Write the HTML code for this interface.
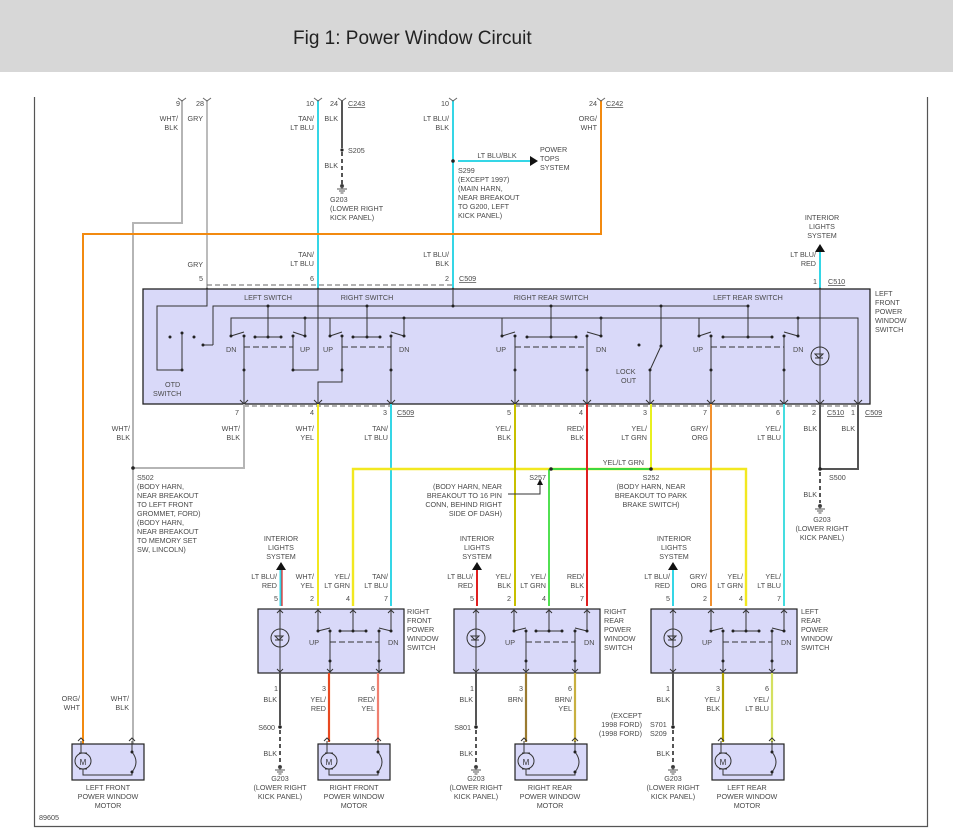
<!DOCTYPE html>
<html><head><meta charset="utf-8"><style>
html,body{margin:0;padding:0;background:#fff;}
svg{display:block}
.t{font-family:"Liberation Sans",sans-serif;font-size:7.2px;fill:#4a4a4a}
.r{text-anchor:end}.c{text-anchor:middle}
.u{text-decoration:underline}
</style></head><body>
<svg width="953" height="838" viewBox="0 0 953 838" xmlns="http://www.w3.org/2000/svg">
<rect x="0" y="0" width="953" height="72" fill="#d7d7d7"/>
<text x="293" y="44" style="font-family:'Liberation Sans',sans-serif;font-size:19px;fill:#222">Fig 1: Power Window Circuit</text>
<path d="M34.5 97 V826.5 H927.5 V97" fill="none" stroke="#555" stroke-width="1.2"/>
<defs>
<g id="gnd" fill="none" stroke="#555" stroke-width="1"><circle cx="0" cy="0" r="1.6" fill="#333"/><path d="M0 0 V3 M-5 3 H5 M-3 5 H3 M-1.5 7 H1.5"/></g>
<g id="lsw">
<rect x="0" y="0" width="146" height="64" fill="#d9d9f9" stroke="#222" stroke-width="1.2"/>
<g fill="none" stroke="#333" stroke-width="1">
<path d="M22 0 V64"/><circle cx="22" cy="29" r="9"/><path d="M17 27 H25 L21 31 Z M17 31 H25"/>
<path d="M60 2 V22 L72 19 M72 22 V64 M82 22 H108 M95 2 V22 M121 19 L133 22 V2 M121 22 V64"/>
<path d="M72 33 H121" stroke-dasharray="6,3"/>
<path d="M19 4 L22 1 L25 4 M57 4 L60 1 L63 4 M92 4 L95 1 L98 4 M130 4 L133 1 L136 4 M19 60 L22 63 L25 60 M69 60 L72 63 L75 60 M118 60 L121 63 L124 60"/>
</g>
<g fill="#222"><circle cx="60" cy="22" r="1.5"/><circle cx="72" cy="22" r="1.5"/><circle cx="82" cy="22" r="1.5"/><circle cx="95" cy="22" r="1.5"/><circle cx="108" cy="22" r="1.5"/><circle cx="121" cy="22" r="1.5"/><circle cx="133" cy="22" r="1.5"/><circle cx="72" cy="52" r="1.5"/><circle cx="121" cy="52" r="1.5"/></g>
</g>
<g id="mot">
<rect x="0" y="0" width="72" height="36" fill="#d9d9f9" stroke="#222" stroke-width="1.2"/>
<g fill="none" stroke="#333" stroke-width="1">
<circle cx="11" cy="17" r="8"/><path d="M9 -3 V9 M11 25 V31 H60 V28 M60 -3 V8 Q68 18 60 28 M6 -3 L9 -6 L12 -3 M57 -3 L60 -6 L63 -3"/>
<path d="M7 9 H15 M7 25 H15"/>
</g>
<circle cx="60" cy="8" r="1.5" fill="#222"/><circle cx="60" cy="28" r="1.5" fill="#222"/>
</g>
</defs>

<!-- top wires -->
<g fill="none" stroke-width="2">
<path d="M182 100 V223 H133 V745" stroke="#b5b5b5"/>
<path d="M207 100 V289" stroke="#bcbcbc"/>
<path d="M318 100 V289" stroke="#35d6e6"/>
<path d="M342 100 V148" stroke="#555"/>
<path d="M342 152 V184" stroke="#555" stroke-dasharray="4,3"/>
<path d="M453 100 V289" stroke="#35d6e6"/>
<path d="M458 161 H530" stroke="#35d6e6"/>
<path d="M601 100 V234 H83 V745" stroke="#f28a10"/>
<path d="M820 250 V289" stroke="#35d6e6"/>
</g>
<g fill="none" stroke="#666" stroke-width="1"><path d="M178 98 L182 101 L186 98 M203 98 L207 101 L211 98 M314 98 L318 101 L322 98 M338 98 L342 101 L346 98 M449 98 L453 101 L457 98 M597 98 L601 101 L605 98"/>
<path d="M203 292 L207 288 L211 292 M314 292 L318 288 L322 292 M449 292 L453 288 L457 292 M816 292 L820 288 L824 292"/>
<path d="M207 285 H453" stroke-dasharray="5,3"/></g>
<circle cx="342" cy="150" r="1.6" fill="#222"/><use href="#gnd" x="342" y="186"/>
<circle cx="453" cy="161" r="1.8" fill="#222"/>
<path d="M530 156 L538 161 L530 166 Z" fill="#111"/>
<path d="M815 252 L820 244 L825 252 Z" fill="#111"/>

<text class="t r" x="180" y="106">9</text><text class="t r" x="204" y="106">28</text>
<text class="t r" x="178" y="121">WHT/</text><text class="t r" x="178" y="130">BLK</text><text class="t r" x="203" y="121">GRY</text>
<text class="t r" x="314" y="106">10</text><text class="t r" x="338" y="106">24</text><text class="t u" x="348" y="106">C243</text>
<text class="t r" x="314" y="121">TAN/</text><text class="t r" x="314" y="130">LT BLU</text><text class="t r" x="338" y="121">BLK</text>
<text class="t" x="348" y="153">S205</text><text class="t r" x="338" y="168">BLK</text>
<text class="t" x="330" y="202">G203</text><text class="t" x="330" y="211">(LOWER RIGHT</text><text class="t" x="330" y="220">KICK PANEL)</text>
<text class="t r" x="449" y="106">10</text><text class="t r" x="449" y="121">LT BLU/</text><text class="t r" x="449" y="130">BLK</text>
<text class="t c" x="497" y="158">LT BLU/BLK</text>
<text class="t" x="540" y="152">POWER</text><text class="t" x="540" y="161">TOPS</text><text class="t" x="540" y="170">SYSTEM</text>
<text class="t" x="458" y="173">S299</text><text class="t" x="458" y="182">(EXCEPT 1997)</text><text class="t" x="458" y="191">(MAIN HARN,</text><text class="t" x="458" y="200">NEAR BREAKOUT</text><text class="t" x="458" y="209">TO G200, LEFT</text><text class="t" x="458" y="218">KICK PANEL)</text>
<text class="t r" x="597" y="106">24</text><text class="t u" x="606" y="106">C242</text>
<text class="t r" x="597" y="121">ORG/</text><text class="t r" x="597" y="130">WHT</text>
<text class="t r" x="203" y="267">GRY</text><text class="t r" x="203" y="281">5</text>
<text class="t r" x="314" y="257">TAN/</text><text class="t r" x="314" y="266">LT BLU</text><text class="t r" x="314" y="281">6</text>
<text class="t r" x="449" y="257">LT BLU/</text><text class="t r" x="449" y="266">BLK</text><text class="t r" x="449" y="281">2</text><text class="t u" x="459" y="281">C509</text>
<text class="t c" x="822" y="220">INTERIOR</text><text class="t c" x="822" y="229">LIGHTS</text><text class="t c" x="822" y="238">SYSTEM</text>
<text class="t r" x="816" y="257">LT BLU/</text><text class="t r" x="816" y="266">RED</text><text class="t r" x="817" y="284">1</text><text class="t u" x="828" y="284">C510</text>
<text class="t" x="875" y="296">LEFT</text><text class="t" x="875" y="305">FRONT</text><text class="t" x="875" y="314">POWER</text><text class="t" x="875" y="323">WINDOW</text><text class="t" x="875" y="332">SWITCH</text>

<!-- main box -->
<rect x="143" y="289" width="727" height="115" fill="#d9d9f9" stroke="#222" stroke-width="1.3"/>
<g fill="none" stroke="#333" stroke-width="1">
<path d="M207 289 V306 H157 V370 H182 V334"/>
<path d="M213 345 H203 M213 345 V306 H748"/>
<path d="M231 336 V318 H858 V404"/>
<path d="M305 336 V318 M330 336 V318 M404 336 V318 M502 336 V318 M601 336 V318 M699 336 V318 M798 336 V318"/>
<path d="M268 306 V337 M367 306 V337 M453 289 V306 M551 306 V337 M661 306 V346 L650 370 V404 M748 306 V337"/>
<path d="M231 336 L244 332 M244 336 V404 M255 337 H281 M293 332 L305 336 M293 336 V370 H318 V289"/>
<path d="M330 336 L342 332 M342 336 V382 H318 V404 M353 337 H380 M391 332 L404 336 M391 336 V404"/>
<path d="M502 336 L515 332 M515 336 V404 M527 337 H576 M587 332 L601 336 M587 336 V404"/>
<path d="M699 336 L711 332 M711 336 V404 M723 337 H772 M784 332 L798 336 M784 336 V404"/>
<path d="M244 347 H293 M342 347 H391 M515 347 H587 M711 347 H784" stroke-dasharray="6,3"/>
<path d="M820 289 V404"/><circle cx="820" cy="356" r="9"/><path d="M815 354 H823 L819 358 Z M815 358 H823"/>
<path d="M240 400 L244 404 L248 400 M314 400 L318 404 L322 400 M387 400 L391 404 L395 400 M511 400 L515 404 L519 400 M583 400 L587 404 L591 400 M646 400 L650 404 L654 400 M707 400 L711 404 L715 400 M780 400 L784 404 L788 400 M816 400 L820 404 L824 400 M854 400 L858 404 L862 400"/>
</g>
<g fill="#222">
<circle cx="170" cy="337" r="1.5"/><circle cx="182" cy="333" r="1.5"/><circle cx="194" cy="337" r="1.5"/><circle cx="203" cy="345" r="1.5"/><circle cx="182" cy="370" r="1.5"/>
<circle cx="268" cy="306" r="1.5"/><circle cx="367" cy="306" r="1.5"/><circle cx="453" cy="306" r="1.5"/><circle cx="551" cy="306" r="1.5"/><circle cx="661" cy="306" r="1.5"/><circle cx="748" cy="306" r="1.5"/>
<circle cx="305" cy="318" r="1.5"/><circle cx="404" cy="318" r="1.5"/><circle cx="601" cy="318" r="1.5"/><circle cx="798" cy="318" r="1.5"/>
<circle cx="231" cy="336" r="1.5"/><circle cx="244" cy="336" r="1.5"/><circle cx="255" cy="337" r="1.5"/><circle cx="268" cy="337" r="1.5"/><circle cx="281" cy="337" r="1.5"/><circle cx="293" cy="336" r="1.5"/><circle cx="305" cy="336" r="1.5"/><circle cx="244" cy="370" r="1.5"/><circle cx="293" cy="370" r="1.5"/>
<circle cx="330" cy="336" r="1.5"/><circle cx="342" cy="336" r="1.5"/><circle cx="353" cy="337" r="1.5"/><circle cx="367" cy="337" r="1.5"/><circle cx="380" cy="337" r="1.5"/><circle cx="391" cy="336" r="1.5"/><circle cx="404" cy="336" r="1.5"/><circle cx="342" cy="370" r="1.5"/><circle cx="391" cy="370" r="1.5"/>
<circle cx="502" cy="336" r="1.5"/><circle cx="515" cy="336" r="1.5"/><circle cx="527" cy="337" r="1.5"/><circle cx="551" cy="337" r="1.5"/><circle cx="576" cy="337" r="1.5"/><circle cx="587" cy="336" r="1.5"/><circle cx="601" cy="336" r="1.5"/><circle cx="515" cy="370" r="1.5"/><circle cx="587" cy="370" r="1.5"/>
<circle cx="639" cy="345" r="1.5"/><circle cx="661" cy="346" r="1.5"/><circle cx="650" cy="370" r="1.5"/>
<circle cx="699" cy="336" r="1.5"/><circle cx="711" cy="336" r="1.5"/><circle cx="723" cy="337" r="1.5"/><circle cx="748" cy="337" r="1.5"/><circle cx="772" cy="337" r="1.5"/><circle cx="784" cy="336" r="1.5"/><circle cx="798" cy="336" r="1.5"/><circle cx="711" cy="370" r="1.5"/><circle cx="784" cy="370" r="1.5"/>
</g>
<text class="t c" x="268" y="300">LEFT SWITCH</text><text class="t c" x="367" y="300">RIGHT SWITCH</text><text class="t c" x="551" y="300">RIGHT REAR SWITCH</text><text class="t c" x="748" y="300">LEFT REAR SWITCH</text>
<text class="t" x="226" y="352">DN</text><text class="t" x="300" y="352">UP</text><text class="t" x="323" y="352">UP</text><text class="t" x="399" y="352">DN</text>
<text class="t" x="496" y="352">UP</text><text class="t" x="596" y="352">DN</text><text class="t" x="693" y="352">UP</text><text class="t" x="793" y="352">DN</text>
<text class="t" x="616" y="374">LOCK</text><text class="t" x="621" y="383">OUT</text>
<text class="t" x="165" y="387">OTD</text><text class="t" x="153" y="396">SWITCH</text>

<!-- below main box wires -->
<g fill="none" stroke="#666" stroke-width="1"><path d="M244 406 H391 M515 406 H858" stroke-dasharray="5,3"/></g>
<g fill="none" stroke-width="2">
<path d="M244 404 V468 H133" stroke="#b5b5b5"/>
<path d="M318 404 V606" stroke="#f2e820"/>
<path d="M391 404 V606" stroke="#35d6e6"/>
<path d="M353 606 V469 H746 V606" stroke="#f2e820" stroke-width="2.4"/>
<path d="M551 469 H651" stroke="#3ed83e" stroke-width="2"/>
<path d="M651 404 V469" stroke="#e8f020"/>
<path d="M549 469 V606" stroke="#52e052"/>
<path d="M515 404 V606" stroke="#c8c000"/>
<path d="M587 404 V606" stroke="#e02020"/>
<path d="M711 404 V606" stroke="#f09030"/>
<path d="M784 404 V606" stroke="#45dde0"/>
<path d="M820 404 V469 M858 404 V469 H820" stroke="#555"/>
<path d="M820 472 V503" stroke="#555" stroke-dasharray="4,3"/>
</g>
<g fill="#222"><circle cx="133" cy="468" r="1.8"/><circle cx="551" cy="469" r="1.8"/><circle cx="651" cy="469" r="1.8"/><circle cx="820" cy="469" r="1.8"/></g>
<use href="#gnd" x="820" y="506"/>
<path d="M508 494 H540 V484" fill="none" stroke="#333"/><path d="M537 485 L540 479 L543 485 Z" fill="#111"/>
<text class="t r" x="239" y="415">7</text><text class="t r" x="314" y="415">4</text><text class="t r" x="387" y="415">3</text><text class="t u" x="397" y="415">C509</text>
<text class="t r" x="511" y="415">5</text><text class="t r" x="583" y="415">4</text><text class="t r" x="647" y="415">3</text><text class="t r" x="707" y="415">7</text><text class="t r" x="780" y="415">6</text><text class="t r" x="816" y="415">2</text><text class="t u" x="827" y="415">C510</text><text class="t r" x="855" y="415">1</text><text class="t u" x="865" y="415">C509</text>
<text class="t r" x="130" y="431">WHT/</text><text class="t r" x="130" y="440">BLK</text>
<text class="t r" x="240" y="431">WHT/</text><text class="t r" x="240" y="440">BLK</text>
<text class="t r" x="314" y="431">WHT/</text><text class="t r" x="314" y="440">YEL</text>
<text class="t r" x="388" y="431">TAN/</text><text class="t r" x="388" y="440">LT BLU</text>
<text class="t r" x="511" y="431">YEL/</text><text class="t r" x="511" y="440">BLK</text>
<text class="t r" x="584" y="431">RED/</text><text class="t r" x="584" y="440">BLK</text>
<text class="t r" x="647" y="431">YEL/</text><text class="t r" x="647" y="440">LT GRN</text>
<text class="t r" x="708" y="431">GRY/</text><text class="t r" x="708" y="440">ORG</text>
<text class="t r" x="781" y="431">YEL/</text><text class="t r" x="781" y="440">LT BLU</text>
<text class="t r" x="817" y="431">BLK</text><text class="t r" x="855" y="431">BLK</text>
<text class="t r" x="644" y="465">YEL/LT GRN</text>
<text class="t r" x="546" y="480">S257</text><text class="t c" x="651" y="480">S252</text><text class="t" x="829" y="480">S500</text>
<text class="t" x="137" y="480">S502</text><text class="t" x="137" y="489">(BODY HARN,</text><text class="t" x="137" y="498">NEAR BREAKOUT</text><text class="t" x="137" y="507">TO LEFT FRONT</text><text class="t" x="137" y="516">GROMMET, FORD)</text><text class="t" x="137" y="525">(BODY HARN,</text><text class="t" x="137" y="534">NEAR BREAKOUT</text><text class="t" x="137" y="543">TO MEMORY SET</text><text class="t" x="137" y="552">SW, LINCOLN)</text>
<text class="t r" x="502" y="489">(BODY HARN, NEAR</text><text class="t r" x="502" y="498">BREAKOUT TO 16 PIN</text><text class="t r" x="502" y="507">CONN, BEHIND RIGHT</text><text class="t r" x="502" y="516">SIDE OF DASH)</text>
<text class="t c" x="651" y="489">(BODY HARN, NEAR</text><text class="t c" x="651" y="498">BREAKOUT TO PARK</text><text class="t c" x="651" y="507">BRAKE SWITCH)</text>
<text class="t r" x="817" y="497">BLK</text>
<text class="t c" x="822" y="522">G203</text><text class="t c" x="822" y="531">(LOWER RIGHT</text><text class="t c" x="822" y="540">KICK PANEL)</text>

<!-- lower switches -->
<use href="#lsw" x="258" y="609"/><use href="#lsw" x="454" y="609"/><use href="#lsw" x="651" y="609"/>
<g fill="none" stroke-width="2">
<path d="M281 569 V606" stroke="#35d6e6" stroke-width="3"/><path d="M282 569 V606" stroke="#e02020" stroke-width="1.2"/>
<path d="M477 569 V606" stroke="#e02020"/>
<path d="M673 569 V606" stroke="#35d6e6"/>
<path d="M329 673 V742" stroke="#f07020" stroke-width="2.2"/><path d="M329 673 V742" stroke="#e02020" stroke-width="1"/>
<path d="M378 673 V742" stroke="#f08070" stroke-width="2.2"/>
<path d="M526 673 V742" stroke="#9a7a30" stroke-width="2.2"/>
<path d="M575 673 V742" stroke="#c8b040" stroke-width="2.2"/>
<path d="M723 673 V742" stroke="#b0a000" stroke-width="2.2"/>
<path d="M772 673 V742" stroke="#d4e060" stroke-width="2.2"/>
<path d="M280 673 V725 M476 673 V725 M673 673 V725" stroke="#555"/>
<path d="M280 730 V764 M476 730 V764 M673 730 V764" stroke="#555" stroke-dasharray="4,3"/>
</g>
<g fill="#222"><circle cx="280" cy="727" r="1.8"/><circle cx="476" cy="727" r="1.8"/><circle cx="673" cy="727" r="1.8"/></g>
<use href="#gnd" x="280" y="767"/><use href="#gnd" x="476" y="767"/><use href="#gnd" x="673" y="767"/>
<path d="M276 570 L281 562 L286 570 Z M472 570 L477 562 L482 570 Z M668 570 L673 562 L678 570 Z" fill="#111"/>
<use href="#mot" x="318" y="744"/><use href="#mot" x="515" y="744"/><use href="#mot" x="712" y="744"/><use href="#mot" x="72" y="744"/>
<text class="t c" x="329" y="765" style="font-size:8px;fill:#333">M</text><text class="t c" x="526" y="765" style="font-size:8px;fill:#333">M</text><text class="t c" x="723" y="765" style="font-size:8px;fill:#333">M</text><text class="t c" x="83" y="765" style="font-size:8px;fill:#333">M</text>

<!-- RF labels -->
<text class="t c" x="281" y="541">INTERIOR</text><text class="t c" x="281" y="550">LIGHTS</text><text class="t c" x="281" y="559">SYSTEM</text>
<text class="t r" x="277" y="579">LT BLU/</text><text class="t r" x="277" y="588">RED</text><text class="t r" x="314" y="579">WHT/</text><text class="t r" x="314" y="588">YEL</text><text class="t r" x="350" y="579">YEL/</text><text class="t r" x="350" y="588">LT GRN</text><text class="t r" x="388" y="579">TAN/</text><text class="t r" x="388" y="588">LT BLU</text>
<text class="t r" x="278" y="601">5</text><text class="t r" x="314" y="601">2</text><text class="t r" x="350" y="601">4</text><text class="t r" x="388" y="601">7</text>
<text class="t" x="407" y="614">RIGHT</text><text class="t" x="407" y="623">FRONT</text><text class="t" x="407" y="632">POWER</text><text class="t" x="407" y="641">WINDOW</text><text class="t" x="407" y="650">SWITCH</text>
<text class="t" x="309" y="645">UP</text><text class="t" x="388" y="645">DN</text>
<text class="t r" x="278" y="691">1</text><text class="t r" x="326" y="691">3</text><text class="t r" x="375" y="691">6</text>
<text class="t r" x="277" y="702">BLK</text><text class="t r" x="326" y="702">YEL/</text><text class="t r" x="326" y="711">RED</text><text class="t r" x="375" y="702">RED/</text><text class="t r" x="375" y="711">YEL</text>
<text class="t r" x="275" y="730">S600</text><text class="t r" x="277" y="756">BLK</text>
<text class="t c" x="280" y="781">G203</text><text class="t c" x="280" y="790">(LOWER RIGHT</text><text class="t c" x="280" y="799">KICK PANEL)</text>
<text class="t c" x="354" y="790">RIGHT FRONT</text><text class="t c" x="354" y="799">POWER WINDOW</text><text class="t c" x="354" y="808">MOTOR</text>
<!-- RR labels -->
<text class="t c" x="477" y="541">INTERIOR</text><text class="t c" x="477" y="550">LIGHTS</text><text class="t c" x="477" y="559">SYSTEM</text>
<text class="t r" x="473" y="579">LT BLU/</text><text class="t r" x="473" y="588">RED</text><text class="t r" x="511" y="579">YEL/</text><text class="t r" x="511" y="588">BLK</text><text class="t r" x="546" y="579">YEL/</text><text class="t r" x="546" y="588">LT GRN</text><text class="t r" x="584" y="579">RED/</text><text class="t r" x="584" y="588">BLK</text>
<text class="t r" x="474" y="601">5</text><text class="t r" x="511" y="601">2</text><text class="t r" x="546" y="601">4</text><text class="t r" x="584" y="601">7</text>
<text class="t" x="604" y="614">RIGHT</text><text class="t" x="604" y="623">REAR</text><text class="t" x="604" y="632">POWER</text><text class="t" x="604" y="641">WINDOW</text><text class="t" x="604" y="650">SWITCH</text>
<text class="t" x="505" y="645">UP</text><text class="t" x="584" y="645">DN</text>
<text class="t r" x="474" y="691">1</text><text class="t r" x="523" y="691">3</text><text class="t r" x="572" y="691">6</text>
<text class="t r" x="473" y="702">BLK</text><text class="t r" x="523" y="702">BRN</text><text class="t r" x="572" y="702">BRN/</text><text class="t r" x="572" y="711">YEL</text>
<text class="t r" x="471" y="730">S801</text><text class="t r" x="473" y="756">BLK</text>
<text class="t c" x="476" y="781">G203</text><text class="t c" x="476" y="790">(LOWER RIGHT</text><text class="t c" x="476" y="799">KICK PANEL)</text>
<text class="t c" x="550" y="790">RIGHT REAR</text><text class="t c" x="550" y="799">POWER WINDOW</text><text class="t c" x="550" y="808">MOTOR</text>
<!-- LR labels -->
<text class="t c" x="674" y="541">INTERIOR</text><text class="t c" x="674" y="550">LIGHTS</text><text class="t c" x="674" y="559">SYSTEM</text>
<text class="t r" x="670" y="579">LT BLU/</text><text class="t r" x="670" y="588">RED</text><text class="t r" x="707" y="579">GRY/</text><text class="t r" x="707" y="588">ORG</text><text class="t r" x="743" y="579">YEL/</text><text class="t r" x="743" y="588">LT GRN</text><text class="t r" x="781" y="579">YEL/</text><text class="t r" x="781" y="588">LT BLU</text>
<text class="t r" x="670" y="601">5</text><text class="t r" x="707" y="601">2</text><text class="t r" x="743" y="601">4</text><text class="t r" x="781" y="601">7</text>
<text class="t" x="801" y="614">LEFT</text><text class="t" x="801" y="623">REAR</text><text class="t" x="801" y="632">POWER</text><text class="t" x="801" y="641">WINDOW</text><text class="t" x="801" y="650">SWITCH</text>
<text class="t" x="702" y="645">UP</text><text class="t" x="781" y="645">DN</text>
<text class="t r" x="670" y="691">1</text><text class="t r" x="720" y="691">3</text><text class="t r" x="769" y="691">6</text>
<text class="t r" x="670" y="702">BLK</text><text class="t r" x="720" y="702">YEL/</text><text class="t r" x="720" y="711">BLK</text><text class="t r" x="769" y="702">YEL/</text><text class="t r" x="769" y="711">LT BLU</text>
<text class="t r" x="642" y="718">(EXCEPT</text><text class="t r" x="642" y="727">1998 FORD)</text><text class="t r" x="642" y="736">(1998 FORD)</text>
<text class="t" x="650" y="727">S701</text><text class="t" x="650" y="736">S209</text><text class="t r" x="670" y="756">BLK</text>
<text class="t c" x="673" y="781">G203</text><text class="t c" x="673" y="790">(LOWER RIGHT</text><text class="t c" x="673" y="799">KICK PANEL)</text>
<text class="t c" x="747" y="790">LEFT REAR</text><text class="t c" x="747" y="799">POWER WINDOW</text><text class="t c" x="747" y="808">MOTOR</text>
<!-- LF motor -->
<text class="t r" x="80" y="701">ORG/</text><text class="t r" x="80" y="710">WHT</text><text class="t r" x="129" y="701">WHT/</text><text class="t r" x="129" y="710">BLK</text>
<text class="t c" x="108" y="790">LEFT FRONT</text><text class="t c" x="108" y="799">POWER WINDOW</text><text class="t c" x="108" y="808">MOTOR</text>
<text class="t" x="39" y="820">89605</text>
</svg>
</body></html>
